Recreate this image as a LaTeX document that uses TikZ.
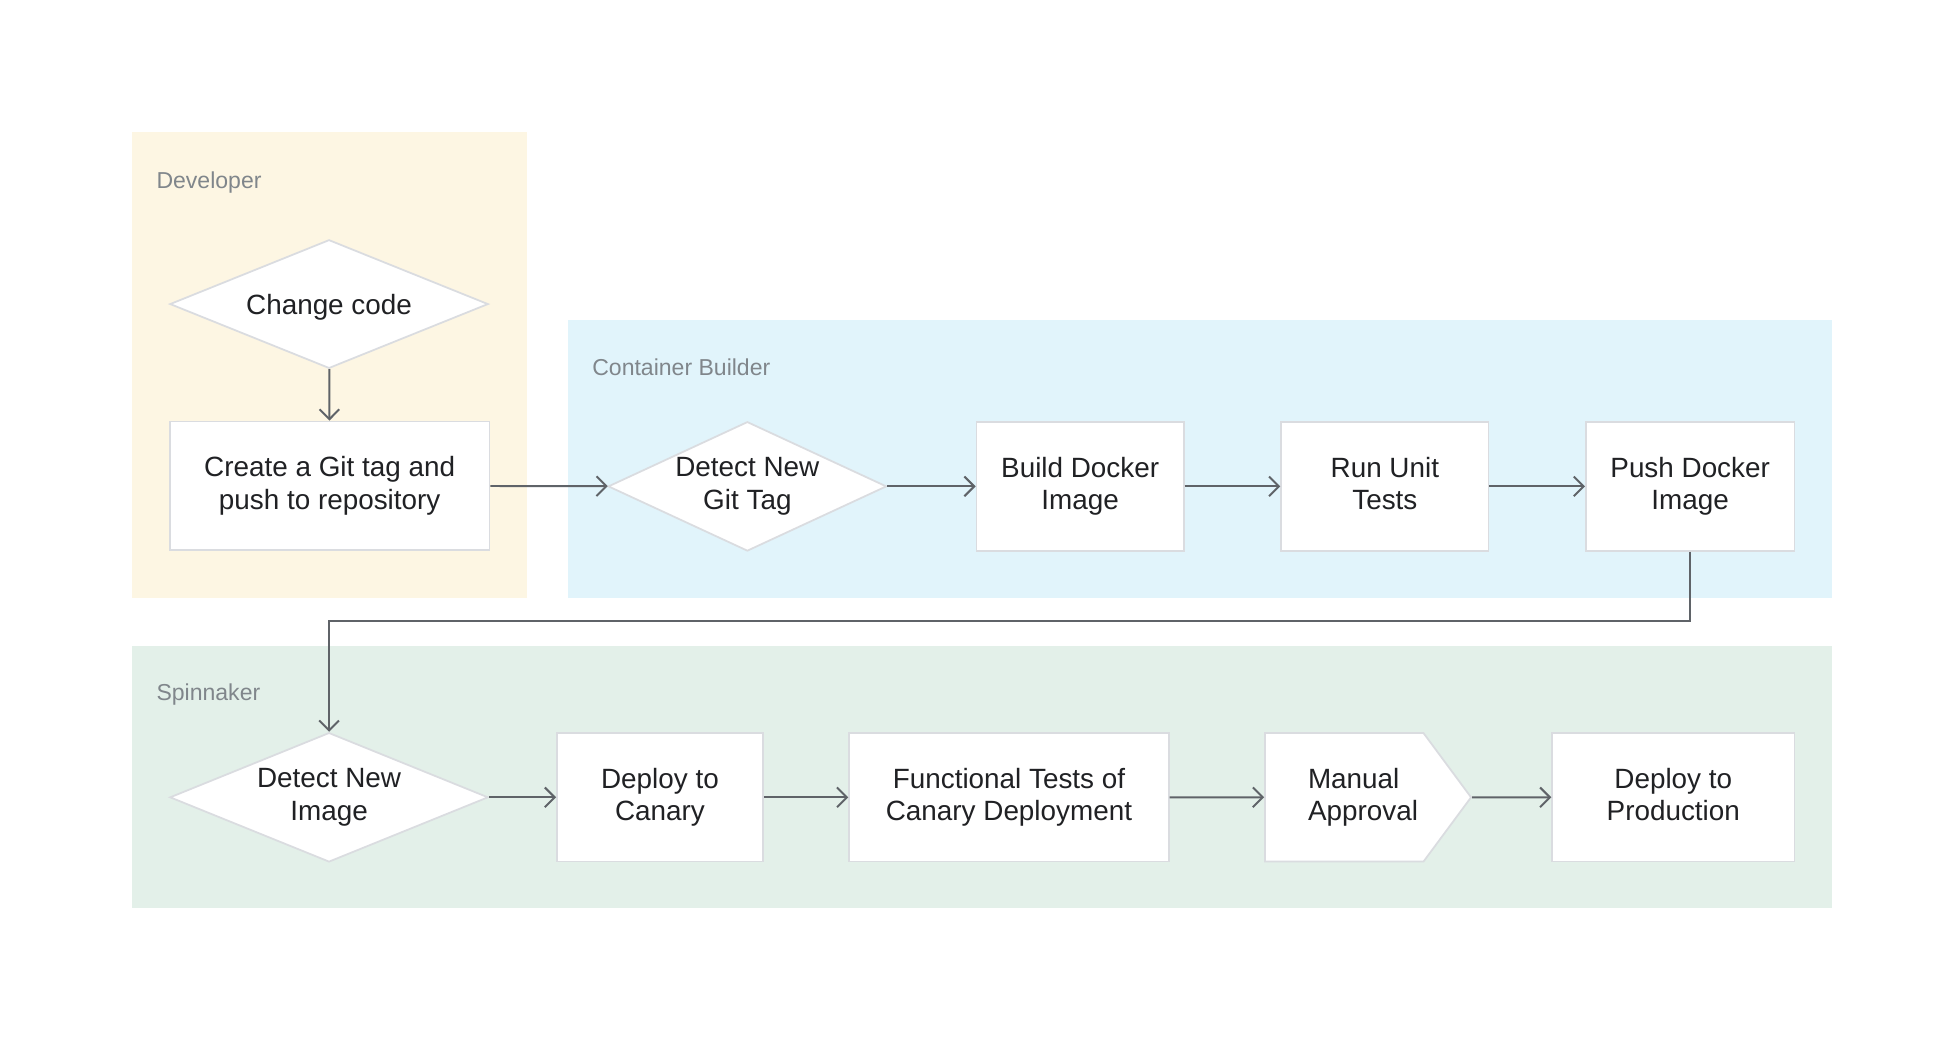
\documentclass[tikz,border=0pt]{standalone}
\usepackage{fontspec}
\setmainfont{Liberation Sans}
\usetikzlibrary{calc}
\usetikzlibrary{arrows.meta}
\usetikzlibrary{shapes.geometric}
\usetikzlibrary{shapes.symbols}
\definecolor{devfill}{HTML}{FDF6E3}
\definecolor{cbfill}{HTML}{E1F4FB}
\definecolor{spinfill}{HTML}{E3F0E9}
\definecolor{edge}{HTML}{DADCE0}
\definecolor{wire}{HTML}{5F6368}
\definecolor{lanetext}{HTML}{80868B}
\definecolor{ink}{HTML}{202124}
\newcommand{\linestrut}{\rule[-2.7pt]{0pt}{14.5pt}}

\begin{document}
\begin{tikzpicture}[x=0.02cm, y=-0.02cm, line cap = butt, >={Straight Barb[length=4.5pt,width=9pt]}]
\tikzstyle{lanelabel}=[anchor=base west, inner sep=0, text=lanetext, font=\fontsize{10.5}{12}\selectfont]
\tikzstyle{stagetext}=[inner sep=0, align=center, text=ink, font=\fontsize{12.7}{14.7}\selectfont, execute at begin node=\linestrut, execute at end node=\linestrut]
\tikzstyle{stage}=[stagetext, draw=edge, fill=white, line width=0.8pt, minimum height=2.06cm]
\tikzstyle{check}=[stage, diamond, minimum width=5.1cm, aspect=2]
\tikzstyle{gate}=[stage, signal, signal to=east, signal pointer angle=107, minimum width=3.3cm]
\tikzstyle{gatetext}=[stagetext, align=left, label distance=0, xshift=0.3cm]
\tikzstyle{flow}=[->, draw=wire, line width=0.9pt]

\useasboundingbox (0,0) rectangle (1568,838);
\fill[white] (0,0) rectangle (1568,838);

\fill[devfill] (106,106) rectangle (422,479);
\fill[cbfill] (455,256) rectangle (1467,479);
\fill[spinfill] (106,517) rectangle (1467,727);

\node[lanelabel] (devlbl) at (125,151) {Developer};
\node[lanelabel] (cblbl) at (474,301) {Container Builder};
\node[lanelabel] (spinlbl) at (125,561) {Spinnaker};

\node[check] (change) at (263.5,243.5) {Change code};
\node[stage, minimum width=5.12cm] (gittag) at (264,389) {Create a Git tag and\\push to repository};

\node[check, minimum width=4.46cm, minimum height=2.02cm] (detect) at (598.5,389.5) {Detect New\\Git Tag};
\node[stage, minimum width=3.32cm] (build) at (865,389.5) {Build Docker\\Image};
\node[stage, minimum width=3.32cm] (unit) at (1109,389.5) {Run Unit\\Tests};
\node[stage, minimum width=3.34cm] (push) at (1353.5,389.5) {Push Docker\\Image};

\node[check] (detimg) at (263.5,638.5) {Detect New\\Image};
\node[stage, minimum width=3.3cm] (canary) at (528.5,638.5) {Deploy to\\Canary};
\node[stage, minimum width=5.12cm] (functest) at (808,638.5) {Functional Tests of\\Canary Deployment};
\node[gate, label={[gatetext]center:{Manual\\Approval}}] (approve) at (1076.5,638.5) {};
\node[stage, minimum width=3.88cm] (prod) at (1340,638.5) {Deploy to\\Production};

\coordinate (bend) at (0,497);

\draw[flow] (change) -- (gittag);
\draw[flow] (gittag) -- (detect);
\draw[flow] (detect) -- (build);
\draw[flow] (build) -- (unit);
\draw[flow] (unit) -- (push);
\draw[flow] (push.south) |- (bend -| detimg.north) -- (detimg.north);
\draw[flow] (detimg) -- (canary);
\draw[flow] (canary) -- (functest);
\draw[flow] (functest) -- (approve);
\draw[flow] (approve) -- (prod);
\end{tikzpicture}
\end{document}
